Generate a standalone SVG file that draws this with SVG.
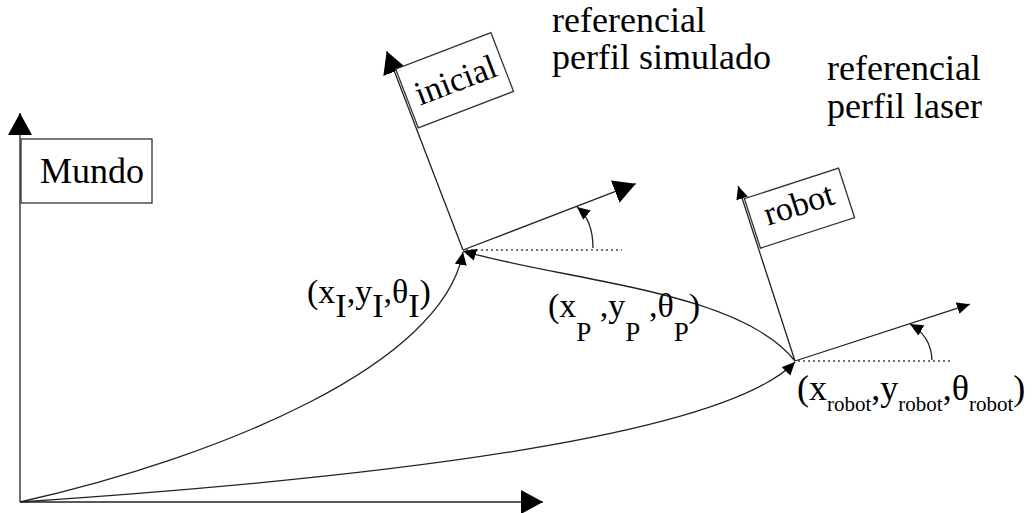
<svg xmlns="http://www.w3.org/2000/svg" width="1034" height="513" viewBox="0 0 1034 513">
<defs>
<style>
.ln{fill:none;stroke:#222;stroke-width:1.3}
.dot{fill:none;stroke:#444;stroke-width:1.3;stroke-dasharray:2,3}
.box{fill:#fff;stroke:#333;stroke-width:1.3}
text{font-family:"Liberation Serif","Times New Roman",serif;fill:#000}
.t{font-size:36px}
.r{font-size:34px}
</style>
<marker id="big" markerUnits="userSpaceOnUse" markerWidth="26" markerHeight="26" refX="22" refY="12" orient="auto"><path d="M0,0 L22,12 L0,24 Z" fill="#000"/></marker>
<marker id="sm" markerUnits="userSpaceOnUse" markerWidth="14" markerHeight="14" refX="13" refY="6" orient="auto"><path d="M0,0 L13,6 L0,12 Z" fill="#000"/></marker>
<marker id="smr" markerUnits="userSpaceOnUse" markerWidth="14" markerHeight="14" refX="0" refY="6" orient="auto"><path d="M13,0 L0,6 L13,12 Z" fill="#000"/></marker>
</defs>
<rect width="1034" height="513" fill="#fff"/>

<g id="mundo">
<line class="ln" x1="20" y1="502" x2="20" y2="113" marker-end="url(#big)"/>
<line class="ln" x1="20" y1="502" x2="543" y2="502" marker-end="url(#big)"/>
<rect class="box" x="21" y="139" width="131" height="64"/>
<text class="t" x="40" y="183">Mundo</text>
</g>

<g id="inicial">
<line class="dot" x1="466" y1="250" x2="622" y2="250"/>
<g transform="translate(463,250) rotate(-21)">
<line class="ln" x1="0" y1="0" x2="0" y2="-213" marker-end="url(#big)"/>
<line class="ln" x1="0" y1="0" x2="185" y2="0" marker-end="url(#big)"/>
<rect class="box" x="2" y="-193" width="102" height="63"/>
<text class="r" x="54" y="-150" text-anchor="middle">inicial</text>
</g>
<path class="ln" d="M593,248 Q593,220 577,207" marker-end="url(#sm)"/>
</g>

<g id="robot">
<line class="dot" x1="798" y1="361" x2="952" y2="361"/>
<g transform="translate(795,361) rotate(-18)">
<line class="ln" x1="0" y1="0" x2="0" y2="-184" marker-end="url(#sm)"/>
<line class="ln" x1="0" y1="0" x2="184" y2="0" marker-end="url(#sm)"/>
<rect class="box" x="2" y="-170" width="99" height="52"/>
<text class="r" x="52" y="-137" text-anchor="middle">robot</text>
</g>
<path class="ln" d="M932,360 Q931,336 910,324" marker-end="url(#sm)"/>
</g>

<g id="connectors">
<path class="ln" d="M20,502 C220,457 443,365 463,252" marker-end="url(#sm)"/>
<path class="ln" d="M463,251 C560,280 740,290 795,361" marker-start="url(#smr)"/>
<path class="ln" d="M20,502 C350,480 720,440 795,362" marker-end="url(#sm)"/>
</g>

<g id="labels">
<text class="t" x="552" y="32">referencial</text>
<text class="t" x="552" y="69">perfil simulado</text>
<text class="t" x="827" y="80">referencial</text>
<text class="t" x="827" y="118">perfil laser</text>
<text class="r" x="307" y="303">(x<tspan dy="14">I</tspan><tspan dy="-14">,y</tspan><tspan dy="14">I</tspan><tspan dy="-14">,θ</tspan><tspan dy="14">I</tspan><tspan dy="-14">)</tspan></text>
<text x="548" y="317" font-size="34">(x<tspan dy="24" font-size="27">P</tspan><tspan dy="-24"> ,y</tspan><tspan dy="24" font-size="27">P</tspan><tspan dy="-24"> ,θ</tspan><tspan dy="24" font-size="27">P</tspan><tspan dy="-24">)</tspan></text>
<text class="t" x="797" y="400">(x<tspan dy="11" font-size="21">robot</tspan><tspan dy="-11">,y</tspan><tspan dy="11" font-size="21">robot</tspan><tspan dy="-11">,θ</tspan><tspan dy="11" font-size="21">robot</tspan><tspan dy="-11">)</tspan></text>
</g>
</svg>
